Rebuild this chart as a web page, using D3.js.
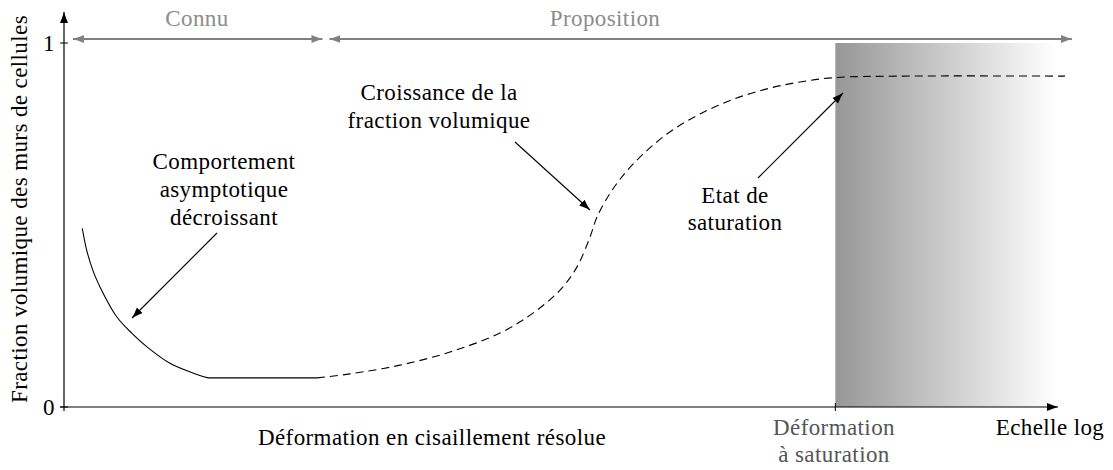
<!DOCTYPE html>
<html><head><meta charset="utf-8">
<script src="https://cdn.jsdelivr.net/npm/d3@7"></script>
<style>body{margin:0;background:#fff}svg{display:block}</style>
</head><body><svg id="c" width="1113" height="470"></svg>
<script>
// Known part (solid): decreasing asymptotic behaviour then plateau
const knownX = [1.84, 2.28, 2.95, 3.95, 5.30, 6.81, 8.32, 10.66, 13.01, 14.52, 25.45];
const knownY = [0.491, 0.431, 0.372, 0.312, 0.248, 0.203, 0.166, 0.120, 0.093, 0.080, 0.080];
// Proposed part (dashed): growth then saturation
const propX = [25.45, 28.77, 33.80, 38.83, 43.86, 47.18, 49.90, 51.61, 52.92, 53.62, 55.15, 57.24, 60.66, 63.98, 67.30, 70.72, 74.04, 77.57, 84.10, 100.7];
const propY = [0.080, 0.091, 0.115, 0.151, 0.203, 0.258, 0.321, 0.385, 0.467, 0.522, 0.596, 0.667, 0.750, 0.805, 0.845, 0.874, 0.893, 0.905, 0.909, 0.909];
const yTicks = [0, 1];
const yTickLabels = ["0", "1"];
const saturationX = 77.6;
const knownRange = [0.9, 26.0];
const proposalRange = [26.7, 101.4];

const FONT = '"Liberation Serif","DejaVu Serif","Times New Roman",serif';
const FS = 23;
const svg = d3.select("#c").attr("font-family", FONT).attr("letter-spacing", 0.4);
const x = d3.scaleLinear().domain([0, 100]).range([64, 1058]);
const y = d3.scaleLinear().domain([0, 1]).range([407, 43]);

const defs = svg.append("defs");
function marker(id, color) {
  defs.append("marker").attr("id", id).attr("viewBox", "0 -5 12 10")
    .attr("refX", 11).attr("refY", 0).attr("markerWidth", 12).attr("markerHeight", 10)
    .attr("markerUnits", "userSpaceOnUse").attr("orient", "auto-start-reverse")
    .append("path").attr("d", "M0,-4 Q6,-1.5 11,0 Q6,1.5 0,4 Z").attr("fill", color);
}
marker("ab", "#000");
marker("ag", "#808080");

const grad = defs.append("linearGradient").attr("id", "g").attr("x1", "0%").attr("x2", "100%");
grad.append("stop").attr("offset", "0%").attr("stop-color", "#979797");
grad.append("stop").attr("offset", "100%").attr("stop-color", "#ffffff");

// saturation region
svg.append("rect").attr("x", x(saturationX)).attr("y", y(1))
  .attr("width", x(99.7) - x(saturationX)).attr("height", y(0) - y(1)).attr("fill", "url(#g)");

// axes
svg.append("line").attr("x1", x(0)).attr("x2", x(0)).attr("y1", y(0) + 4).attr("y2", 12)
  .attr("stroke", "#000").attr("stroke-width", 1.2).attr("marker-end", "url(#ab)");
svg.append("line").attr("x1", x(0) - 4).attr("x2", x(100)).attr("y1", y(0)).attr("y2", y(0))
  .attr("stroke", "#000").attr("stroke-width", 1.2).attr("marker-end", "url(#ab)");
svg.selectAll(".yt").data(yTicks).enter().append("line")
  .attr("x1", x(0) - 4).attr("x2", x(0) + 4).attr("y1", d => y(d)).attr("y2", d => y(d))
  .attr("stroke", "#000").attr("stroke-width", 1);
svg.selectAll(".ytl").data(yTicks).enter().append("text")
  .attr("x", x(0) - 15).attr("y", d => y(d) + 8).attr("text-anchor", "middle")
  .attr("font-size", FS).text((d, i) => yTickLabels[i]);
svg.append("line").attr("x1", x(saturationX)).attr("x2", x(saturationX))
  .attr("y1", y(0) - 4).attr("y2", y(0) + 4).attr("stroke", "#000").attr("stroke-width", 1);

// curves
const line = d3.line().x(d => x(d[0])).y(d => y(d[1])).curve(d3.curveCatmullRom.alpha(0.5));
const kPts = knownX.map((v, i) => [v, knownY[i]]);
const last = kPts[kPts.length - 1];
svg.append("path").attr("d", line(kPts.slice(0, -1)) + "L" + x(last[0]) + "," + y(last[1]))
  .attr("fill", "none").attr("stroke", "#000").attr("stroke-width", 1.1);
svg.append("path").attr("d", line(propX.map((v, i) => [v, propY[i]])))
  .attr("fill", "none").attr("stroke", "#000").attr("stroke-width", 1.1).attr("stroke-dasharray", "8,5");

// top range arrows
const topY = y(1) - 4;
svg.append("line").attr("x1", x(knownRange[0])).attr("x2", x(knownRange[1])).attr("y1", topY).attr("y2", topY)
  .attr("stroke", "#808080").attr("stroke-width", 2).attr("marker-start", "url(#ag)").attr("marker-end", "url(#ag)");
svg.append("line").attr("x1", x(proposalRange[0])).attr("x2", x(proposalRange[1])).attr("y1", topY).attr("y2", topY)
  .attr("stroke", "#808080").attr("stroke-width", 2).attr("marker-start", "url(#ag)").attr("marker-end", "url(#ag)");
svg.append("text").attr("x", 197).attr("y", 26).attr("text-anchor", "middle").attr("fill", "#8c8c8c").attr("font-size", FS).text("Connu");
svg.append("text").attr("x", 605).attr("y", 26).attr("text-anchor", "middle").attr("fill", "#8c8c8c").attr("font-size", FS).text("Proposition");

// annotations
function multi(lines, cx, y0, dy, color) {
  lines.forEach((t, i) => svg.append("text").attr("x", cx).attr("y", y0 + i * dy)
    .attr("text-anchor", "middle").attr("font-size", FS).attr("fill", color || "#000").text(t));
}
multi(["Comportement", "asymptotique", "décroissant"], 224, 169, 28);
multi(["Croissance de la", "fraction volumique"], 439, 100, 28);
multi(["Etat de", "saturation"], 735, 203, 27);
function arrow(x1, y1, x2, y2) {
  svg.append("line").attr("x1", x1).attr("y1", y1).attr("x2", x2).attr("y2", y2)
    .attr("stroke", "#000").attr("stroke-width", 1.1).attr("marker-end", "url(#ab)");
}
arrow(217, 233, 132, 318);
arrow(515, 142, 590, 210);
arrow(758, 178, 843, 93);

// axis labels
svg.append("text").attr("transform", "translate(27,209) rotate(-90)").attr("text-anchor", "middle")
  .attr("font-size", FS).text("Fraction volumique des murs de cellules");
svg.append("text").attr("x", 432).attr("y", 445).attr("text-anchor", "middle").attr("font-size", FS)
  .text("Déformation en cisaillement résolue");
multi(["Déformation", "à saturation"], 834, 435, 27, "#555");
svg.append("text").attr("x", 1050).attr("y", 435).attr("text-anchor", "middle").attr("font-size", FS).text("Echelle log");
</script></body></html>
